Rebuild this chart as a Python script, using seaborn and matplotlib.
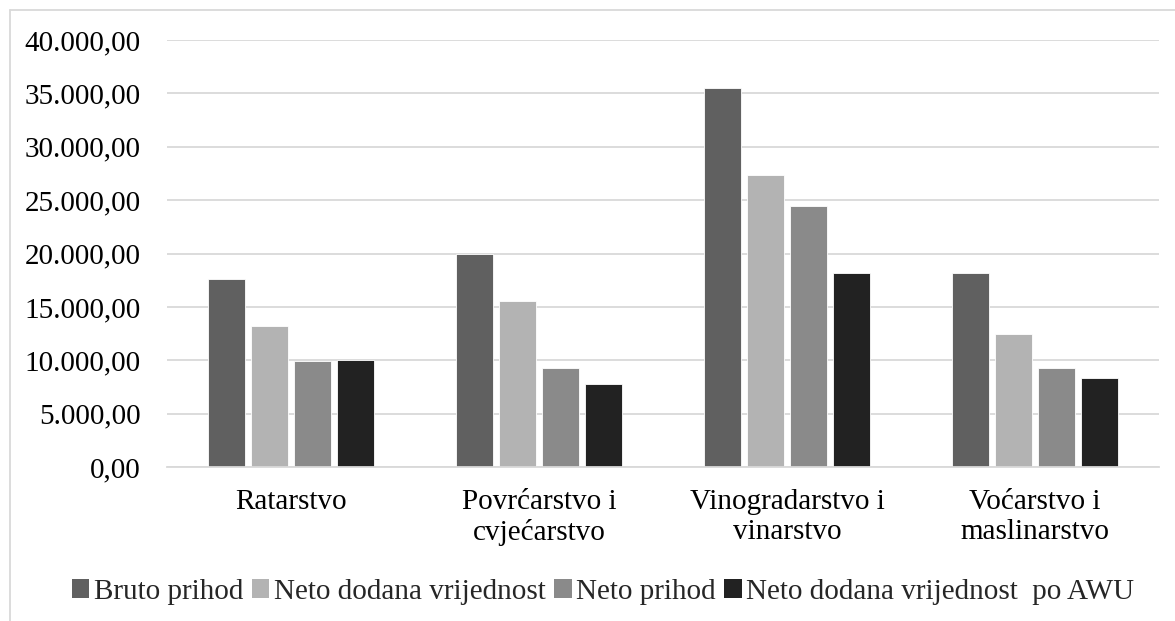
import pandas as pd
import numpy as np
import matplotlib.pyplot as plt
import seaborn as sns
from matplotlib.lines import Line2D
from matplotlib.patches import Patch

# data
categories = ['Ratarstvo', 'Povrćarstvo i\ncvjećarstvo', 'Vinogradarstvo i\nvinarstvo', 'Voćarstvo i\nmaslinarstvo']
series = ['Bruto prihod', 'Neto dodana vrijednost', 'Neto prihod', 'Neto dodana vrijednost  po AWU']
bruto_prihod = [17600, 19950, 35550, 18200]
neto_dodana = [13200, 15550, 27350, 12500]
neto_prihod = [9950, 9300, 24450, 9300]
neto_dodana_awu = [10050, 7750, 18200, 8350]
colors = ['#606060', '#b3b3b3', '#8a8a8a', '#222222']
yticks = [0, 5000, 10000, 15000, 20000, 25000, 30000, 35000, 40000]

df = pd.DataFrame({
    'Kategorija': categories * 4,
    'Serija': np.repeat(series, 4),
    'Vrijednost': bruto_prihod + neto_dodana + neto_prihod + neto_dodana_awu,
})

sns.set_style('white')
plt.rcParams['font.family'] = ['Liberation Serif', 'DejaVu Serif']

fig = plt.figure(figsize=(11.75, 6.21), dpi=100)
ax = fig.add_axes([167 / 1175, 1 - 467 / 621, (1159 - 167) / 1175, (467 - 40) / 621])

sns.barplot(data=df, x='Kategorija', y='Vrijednost', hue='Serija', palette=colors,
            width=0.69, gap=0.13, edgecolor='white', linewidth=0.6, legend=False, ax=ax)

ax.set_ylim(0, 40000)
ax.set_yticks(yticks)
ax.set_yticklabels([f'{v:,.2f}'.replace(',', 'X').replace('.', ',').replace('X', '.') for v in yticks])
ax.yaxis.grid(True, color='#d9d9d9', linewidth=1.3)
ax.set_axisbelow(True)
for s in ['left', 'right', 'top']:
    ax.spines[s].set_visible(False)
ax.spines['bottom'].set_color('#d9d9d9')
ax.spines['bottom'].set_linewidth(1.3)
ax.tick_params(axis='both', length=0, labelsize=21, colors='black')
ax.tick_params(axis='y', pad=19)
ax.tick_params(axis='x', pad=16)
ax.set_xlabel('')
ax.set_ylabel('')

handles = [Patch(facecolor=c, edgecolor='none') for c in colors]
fig.legend(handles, series, loc='center', bbox_to_anchor=(603 / 1175, 1 - 592 / 621),
           ncol=4, frameon=False, fontsize=21, handlelength=0.6, handleheight=0.6,
           handletextpad=0.15, columnspacing=0.3)

# outer chart frame (left and top edges visible)
fig.add_artist(Line2D([10 / 1175, 10 / 1175], [0, 1 - 10 / 621], color='#d9d9d9', linewidth=1.3))
fig.add_artist(Line2D([10 / 1175, 1], [1 - 10 / 621, 1 - 10 / 621], color='#d9d9d9', linewidth=1.3))

plt.savefig('out.png', dpi=100)
